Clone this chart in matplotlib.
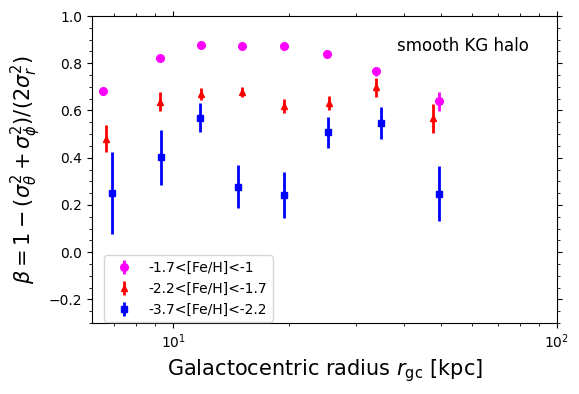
#!/usr/bin/env python
# anisotropy beta vs galactocentric radius, three metallicity bins
import numpy as np
import matplotlib.pyplot as plt
from matplotlib.ticker import AutoMinorLocator

# -1.7<[Fe/H]<-1
r_mr = [6.55, 9.27, 11.85, 15.14, 19.5, 25.2, 33.8, 49.3]
beta_mr = [0.682, 0.824, 0.879, 0.875, 0.871, 0.837, 0.765, 0.638]
err_mr = [0.012, 0.008, 0.007, 0.007, 0.007, 0.009, 0.020, 0.040]

# -2.2<[Fe/H]<-1.7
r_im = [6.69, 9.27, 11.85, 15.14, 19.5, 25.5, 33.8, 47.6]
beta_im = [0.481, 0.637, 0.670, 0.678, 0.619, 0.632, 0.698, 0.566]
err_im = [0.057, 0.040, 0.024, 0.020, 0.030, 0.028, 0.039, 0.061]

# -3.7<[Fe/H]<-2.2
r_mp = [6.95, 9.3, 11.78, 14.8, 19.4, 25.4, 34.8, 49.3]
beta_mp = [0.250, 0.401, 0.570, 0.278, 0.242, 0.507, 0.547, 0.248]
err_mp = [0.173, 0.116, 0.062, 0.090, 0.097, 0.065, 0.067, 0.115]

labels = ['-1.7<[Fe/H]<-1', '-2.2<[Fe/H]<-1.7', '-3.7<[Fe/H]<-2.2']

fig = plt.figure(figsize=(5.79, 3.94), dpi=100)
ax = fig.add_axes([92 / 579., 1 - 323 / 394., 465 / 579., 307 / 394.])

ax.errorbar(r_mr, beta_mr, yerr=err_mr, fmt='o', color='magenta',
            ms=5.5, elinewidth=2, label=labels[0])
ax.errorbar(r_im, beta_im, yerr=err_im, fmt='^', color='red',
            ms=5, elinewidth=2, label=labels[1])
ax.errorbar(r_mp, beta_mp, yerr=err_mp, fmt='s', color='blue',
            ms=5, elinewidth=2, label=labels[2])

ax.set_xscale('log')
ax.set_xlim(6.15, 100)
ax.set_ylim(-0.3, 1.0)
ax.yaxis.set_minor_locator(AutoMinorLocator())
ax.tick_params(which='both', top=True, right=True, direction='out')

ax.text(0.656, 0.902, 'smooth KG halo', transform=ax.transAxes,
        fontsize=12, va='center')

ax.set_xlabel(r'Galactocentric radius $r_{\rm gc}$ [kpc]', fontsize=15)
ax.set_ylabel(r'$\beta=1-(\sigma_\theta^2+\sigma_\phi^2)/(2\sigma_r^2)$',
              fontsize=15)
ax.legend(loc='lower left', bbox_to_anchor=(0.026, 0.003),
          borderaxespad=0, fontsize=10)

plt.savefig('out.png')
